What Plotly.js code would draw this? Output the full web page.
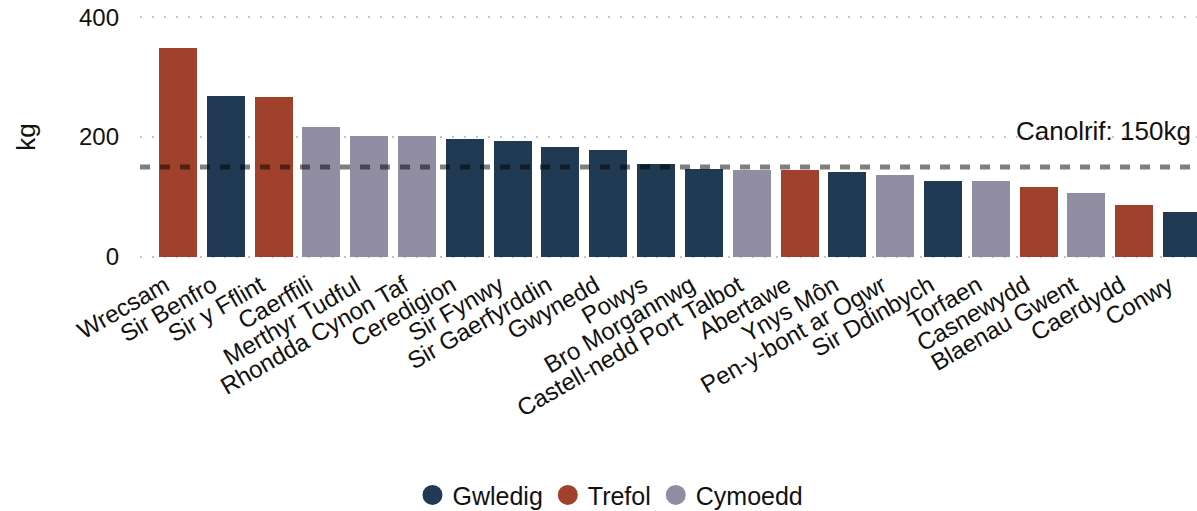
<!DOCTYPE html>
<html>
<head>
<meta charset="utf-8">
<script src="https://cdn.plot.ly/plotly-3.0.1.min.js"></script>
<style>html,body{margin:0;padding:0;background:#fff;}#chart{width:1197px;height:511px;}</style>
</head>
<body>
<div id="chart"></div>
<script>
const regions = ["Wrecsam","Sir Benfro","Sir y Fflint","Caerffili","Merthyr Tudful","Rhondda Cynon Taf","Ceredigion","Sir Fynwy","Sir Gaerfyrddin","Gwynedd","Powys","Bro Morgannwg","Castell-nedd Port Talbot","Abertawe","Ynys Môn","Pen-y-bont ar Ogwr","Sir Ddinbych","Torfaen","Casnewydd","Blaenau Gwent","Caerdydd","Conwy"];
const values = [348,269,267,217,202,202,197,194,184,179,155,147,145,145,142,137,127,127,117,107,87,75];
const groups = ["Trefol","Gwledig","Trefol","Cymoedd","Cymoedd","Cymoedd","Gwledig","Gwledig","Gwledig","Gwledig","Gwledig","Gwledig","Cymoedd","Trefol","Gwledig","Cymoedd","Gwledig","Cymoedd","Trefol","Cymoedd","Trefol","Gwledig"];
const groupNames = ["Gwledig","Trefol","Cymoedd"];
const groupColors = {"Gwledig":"#1f3a52","Trefol":"#a0422b","Cymoedd":"#918da2"};
const meanValue = 150;
const meanLabel = "Canolrif: 150kg";
const yTicks = [0,200,400];

const font = "Liberation Sans, Arial, sans-serif";
const barTraces = groupNames.map(g => {
  const xs = [], ys = [];
  regions.forEach((r,i) => { if (groups[i] === g) { xs.push(r); ys.push(values[i]); } });
  return {type:"bar", name:g, x:xs, y:ys, marker:{color:groupColors[g]}, showlegend:false, legendgroup:g, hoverinfo:"x+y"};
});
const legendTraces = groupNames.map(g => ({
  type:"scatter", mode:"markers", name:g, x:[null], y:[null], legendgroup:g,
  marker:{symbol:"circle", size:16, color:groupColors[g], line:{color:groupColors[g], width:4}}
}));

const layout = {
  width:1197, height:511,
  margin:{l:140, r:0, t:15, b:252},
  paper_bgcolor:"#fff", plot_bgcolor:"#fff",
  font:{family:font, size:24, color:"#111"},
  barmode:"stack",
  bargap:0.205,
  showlegend:true,
  legend:{orientation:"h", xref:"container", yref:"container", x:0.510, xanchor:"center", y:0.031, yanchor:"middle", font:{size:25}, itemsizing:"trace", itemwidth:30, traceorder:"normal"},
  xaxis:{type:"category", categoryorder:"array", categoryarray:regions, range:[-0.795, 21.314], tickangle:-30, showgrid:false, zeroline:false, showline:false, ticks:"", tickfont:{size:24}, ticklabelshift:-13, ticklabelstandoff:7, automargin:false},
  yaxis:{range:[-4,404], tickvals:yTicks, ticktext:yTicks.map(String), showgrid:true, gridcolor:"#c4c4c4", gridwidth:2, griddash:"2px,10px", zeroline:false, showline:false, ticks:"", ticklabelstandoff:20, tickfont:{size:24}, title:{text:"kg", font:{size:26}, standoff:35}, automargin:true},
  shapes:[{type:"line", xref:"paper", x0:0, x1:0.994, yref:"y", y0:meanValue, y1:meanValue, line:{color:"rgba(0,0,0,0.5)", width:5, dash:"10px,10px"}, layer:"above"}],
  annotations:[{xref:"paper", x:0.996, xanchor:"right", yref:"y", y:meanValue, yanchor:"bottom", yshift:19, text:meanLabel, showarrow:false, font:{size:26, color:"#111"}}]
};

Plotly.newPlot("chart", barTraces.concat(legendTraces), layout, {displayModeBar:false, staticPlot:true});
</script>
</body>
</html>
